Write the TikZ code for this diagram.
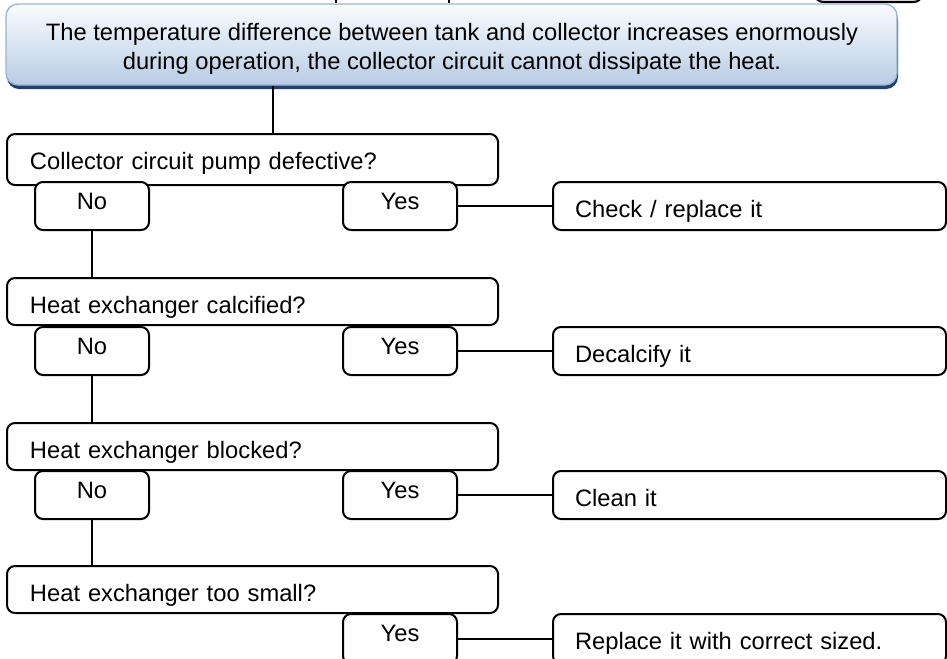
\documentclass[tikz,border=0pt]{standalone}
\usepackage{fontspec}
\setmainfont{Liberation Sans}
\usetikzlibrary{shadows}
\definecolor{topfill}{HTML}{FAFCFE}
\definecolor{botfill}{HTML}{B8CCE4}
\definecolor{edgeblue}{HTML}{95B3D7}
\definecolor{shadownavy}{HTML}{23406A}
\begin{document}
\begin{tikzpicture}[x=0.75pt,y=-0.75pt,
  txt/.style={font=\fontsize{17.8pt}{21.3pt}\selectfont},
  box/.style={draw=black, line width=1.5pt, fill=white, rounded corners=6pt, inner ysep=0pt, txt},
  qbox/.style={box, anchor=north west, text width=333.75pt, inner xsep=17.25pt, align=left, text depth=0pt},
  abox/.style={box, anchor=north west, text width=261.75pt, inner xsep=16.5pt, align=left, minimum height=36pt, text height=16.5pt, text depth=0pt},
  nbox/.style={box, anchor=north west, minimum width=85.5pt, minimum height=36pt, inner xsep=0pt, text height=4.5pt, text depth=0pt},
  conn/.style={line width=1.5pt, draw=black}
]
\useasboundingbox (0,0) rectangle (947,658);
\clip (0,0) rectangle (947,658);

% cropped fragments at the top edge
\node (frag) [draw=black, line width=1.5pt, fill=gray!35, rounded corners=6pt, anchor=south west, minimum width=80.25pt, minimum height=15pt, inner sep=0pt] at (814,3) {};

% title box
\node (top) [draw=edgeblue, line width=1pt, top color=topfill, bottom color=botfill, rounded corners=9pt,
  minimum width=668.25pt, minimum height=60.75pt, inner sep=0pt,
  drop shadow={shadow xshift=0.75pt, shadow yshift=-3pt, fill=shadownavy, opacity=1}] at (451.5,44.5) {};
\node (t1) [txt, anchor=base, inner sep=0pt] at (452,40.7) {The temperature difference between tank and collector increases enormously};
\node (t2) [txt, anchor=base, inner sep=0pt] at (452,69) {during operation, the collector circuit cannot dissipate the heat.};

\coordinate (ta) at (336,0);
\coordinate (tb) at (449,0);
\draw[conn] (ta) -- (ta |- top.north);
\draw[conn] (tb) -- (tb |- top.north);

% row 1
\node (q1) [qbox, minimum height=38.25pt, text height=14.25pt] at (6,133) {Collector circuit pump defective?};
\node (n1) [nbox] at (34,181) {No};
\node (y1) [nbox] at (342,181) {Yes};
\node (a1) [abox] at (552,181) {Check / replace it};

% row 2
\node (q2) [qbox, minimum height=35.25pt, text height=17.25pt] at (6,277) {Heat exchanger calcified?};
\node (n2) [nbox] at (34,326) {No};
\node (y2) [nbox] at (342,326) {Yes};
\node (a2) [abox] at (552,326) {Decalcify it};

% row 3
\node (q3) [qbox, minimum height=35.25pt, text height=17.25pt] at (6,422) {Heat exchanger blocked?};
\node (n3) [nbox] at (34,470) {No};
\node (y3) [nbox] at (342,470) {Yes};
\node (a3) [abox] at (552,470) {Clean it};

% row 4
\node (q4) [qbox, minimum height=35.25pt, text height=17.25pt] at (6,565) {Heat exchanger too small?};
\node (y4) [nbox, minimum height=37.5pt, text height=3pt] at (342,613) {Yes};
\node (a4) [abox, minimum height=37.5pt, text height=15pt] at (552,613) {Replace it with correct sized.};

% connectors
\coordinate (c0) at (273,0);
\draw[conn] (c0 |- top.south) -- (c0 |- q1.north);
\draw[conn] (n1.south) -- (n1.south |- q2.north);
\draw[conn] (n2.south) -- (n2.south |- q3.north);
\draw[conn] (n3.south) -- (n3.south |- q4.north);
\draw[conn] (y1.east) -- (a1.west);
\draw[conn] (y2.east) -- (a2.west);
\draw[conn] (y3.east) -- (a3.west);
\draw[conn] (y4.east) -- (a4.west);
\end{tikzpicture}
\end{document}
